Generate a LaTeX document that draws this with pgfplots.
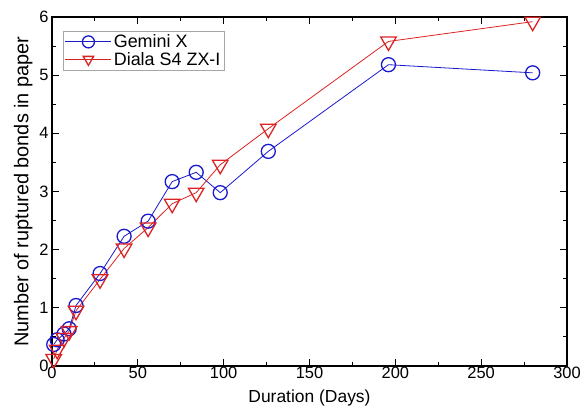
\documentclass[border=0pt]{standalone}
\usepackage{fontspec}
\setmainfont{Liberation Sans}
\usepackage{pgfplots}
\pgfplotsset{compat=1.18}
\definecolor{gemblue}{RGB}{25,25,205}
\definecolor{dialared}{RGB}{220,35,35}

\begin{document}
\begin{tikzpicture}
\useasboundingbox (-52bp,-44bp) rectangle (533bp,366bp);
\begin{axis}[
  at={(0,0)}, anchor=south west,
  scale only axis, width=515bp, height=349bp,
  xmin=0, xmax=300, ymin=0, ymax=6,
  xtick={0,50,...,300}, ytick={0,1,...,6},
  minor x tick num=1, minor y tick num=1,
  tick align=inside,
  major tick length=7bp, minor tick length=4bp,
  axis line style={line width=1.1bp},
  every tick/.style={black, line width=1bp},
  xlabel={Duration (Days)}, ylabel={Number of ruptured bonds in paper},
  xlabel style={font=\fontsize{17.5}{19}\selectfont, inner sep=0pt, yshift=-7bp},
  ylabel style={font=\fontsize{20}{22}\selectfont, yshift=0bp},
  tick label style={font=\fontsize{16.5}{18}\selectfont},
  xticklabel style={yshift=2bp},
  /pgf/number format/assume math mode=true,
  legend style={at={(0.022,0.96)}, anchor=north west, draw=gray!70,
    font=\fontsize{18}{20}\selectfont, inner sep=1.5bp, row sep=-1bp},
  legend cell align=left,
  legend image code/.code={
    \draw[mark repeat=2,mark phase=2,mark size=6bp]
      plot coordinates {(0bp,0bp) (23bp,0bp) (46bp,0bp)};},
]
\addplot[gemblue, line width=0.8bp, mark=o,
  mark options={line width=1.3bp, fill=white}, mark size=7bp] coordinates {
(1,0.37)(3,0.45)(7,0.55)(10,0.64)(14,1.04)(28,1.59)(42,2.23)(56,2.49)
(70,3.17)(84,3.33)(98,2.98)(126,3.69)(196,5.18)(280,5.04)};
\addlegendentry{Gemini X}
\addplot[dialared, line width=0.8bp, mark=triangle,
  mark options={line width=1.3bp, fill=white, rotate=180}, mark size=9bp] coordinates {
(1,0.12)(3,0.28)(7,0.48)(10,0.6)(14,0.95)(28,1.49)(42,2.02)(56,2.38)
(70,2.79)(84,2.98)(98,3.46)(126,4.08)(196,5.58)(280,5.92)};
\addlegendentry{Diala S4 ZX-I}
\end{axis}
\end{tikzpicture}
\end{document}
